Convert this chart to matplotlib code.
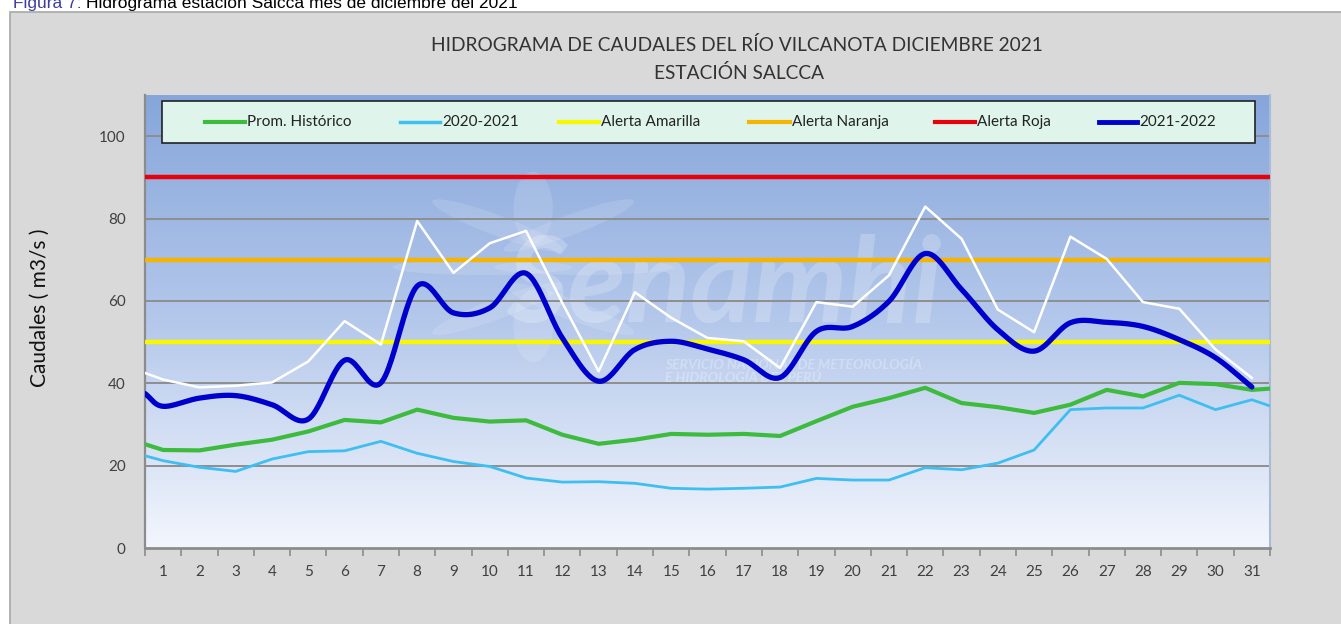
import numpy as np
import matplotlib
matplotlib.use("Agg")
import matplotlib.pyplot as plt
from matplotlib.colors import LinearSegmentedColormap
from matplotlib.patches import Rectangle, Ellipse

plt.rcParams['font.family'] = ['Lato', 'DejaVu Sans']

# ---- data ----
days = list(range(1, 32))
prom_hist = [23.8, 23.7, 25.1, 26.3, 28.3, 31.1, 30.5, 33.6, 31.6, 30.7, 31.0,
             27.5, 25.3, 26.3, 27.7, 27.5, 27.7, 27.2, 30.8, 34.3, 36.4, 38.9,
             35.2, 34.2, 32.8, 34.8, 38.4, 36.8, 40.1, 39.8, 38.4]
prom_hist_edges = (25.2, 38.7)      # values where the line meets the left / right frame
q_2020 = [21.2, 19.6, 18.6, 21.6, 23.4, 23.6, 25.9, 23.0, 21.0, 19.8, 17.0,
          16.0, 16.1, 15.7, 14.5, 14.3, 14.5, 14.8, 16.9, 16.5, 16.5, 19.5,
          19.0, 20.6, 23.8, 33.6, 34.0, 34.0, 37.1, 33.6, 36.0]
q_2020_edges = (22.4, 34.5)
q_2021 = [34.4, 36.4, 37.0, 34.8, 31.3, 45.6, 40.1, 63.6, 57.1, 58.3, 66.7,
          51.0, 40.5, 48.2, 50.2, 48.3, 45.7, 41.4, 52.6, 53.8, 59.9, 71.5,
          62.8, 53.0, 47.8, 54.7, 54.8, 53.8, 50.6, 46.2, 39.1]
q_2021_start = 37.5
q_max = [40.9, 39.0, 39.4, 40.2, 45.3, 55.1, 49.4, 79.4, 66.8, 74.0, 77.0,
         59.5, 42.9, 62.1, 55.9, 51.0, 50.2, 43.7, 59.7, 58.6, 66.2, 82.9,
         75.1, 57.9, 52.4, 75.6, 70.2, 59.7, 58.1, 48.2, 41.3]
q_max_start = 42.5
alertas = {'Alerta Amarilla': 50, 'Alerta Naranja': 70, 'Alerta Roja': 90}
y_ticks = [0, 20, 40, 60, 80, 100]

c_green = '#3dbb3d'
c_cyan = '#3fbff0'
c_blue = '#0000cc'
c_alert = {'Alerta Amarilla': '#f7f700', 'Alerta Naranja': '#f5b400',
           'Alerta Roja': '#e8000b'}


def smooth(x, y, n=24):
    # Catmull-Rom curve through the points (like Excel's smoothed line)
    x = np.asarray(x, float)
    y = np.asarray(y, float)
    px = np.concatenate([[2 * x[0] - x[1]], x, [2 * x[-1] - x[-2]]])
    py = np.concatenate([[2 * y[0] - y[1]], y, [2 * y[-1] - y[-2]]])
    t = np.linspace(0, 1, n, endpoint=False)
    ox, oy = [], []
    for i in range(1, len(px) - 2):
        for p, o in ((px, ox), (py, oy)):
            p0, p1, p2, p3 = p[i - 1], p[i], p[i + 1], p[i + 2]
            o.extend(0.5 * (2 * p1 + (-p0 + p2) * t
                            + (2 * p0 - 5 * p1 + 4 * p2 - p3) * t ** 2
                            + (-p0 + 3 * p1 - 3 * p2 + p3) * t ** 3))
    ox.append(x[-1])
    oy.append(y[-1])
    return ox, oy


W, H = 1341, 624
fig = plt.figure(figsize=(W / 100, H / 100), dpi=100)
fig.patch.set_facecolor('white')

# chart frame
fig.patches.append(Rectangle((10 / W, -0.01), 1, 1 - 12 / H + 0.01,
                             transform=fig.transFigure, fc='#d9d9d9',
                             ec='#a8a8a8', lw=1.2, zorder=-5))

# caption (cut at the top, as in the source page)
cap_font = ['Liberation Sans', 'DejaVu Sans']
cap1 = fig.text(13 / W, 1 - 8 / H, 'Figura 7:', color='#3d3d9e', fontsize=12.5,
                va='baseline', family=cap_font)
fig.canvas.draw()
bb = cap1.get_window_extent()
fig.text(bb.x1 / W + 4 / W, 1 - 8 / H,
         'Hidrograma estación Salcca mes de diciembre del 2021', color='black',
         fontsize=12.5, va='baseline', family=cap_font)

# title
fig.text(737 / W, 1 - 45 / H,
         'HIDROGRAMA DE CAUDALES DEL RÍO VILCANOTA DICIEMBRE 2021',
         ha='center', va='center', fontsize=13.8, color='#333333')
fig.text(739 / W, 1 - 73 / H, 'ESTACIÓN SALCCA', ha='center', va='center',
         fontsize=13.8, color='#333333')

ax = fig.add_axes([145 / W, 76 / H, 1125 / W, 453 / H])
ax.set_facecolor('none')

# gradient plot area
grad = LinearSegmentedColormap.from_list('bg', ['#86a6db', '#b4c8eb', '#f3f6fd'])
ax.imshow(np.linspace(0, 1, 256).reshape(-1, 1), cmap=grad, aspect='auto',
          extent=[0, 1, 0, 1], transform=ax.transAxes, zorder=0)

# watermark
ax.text(0.515, 0.575, 'Senamhi', transform=ax.transAxes, ha='center', va='center',
        fontsize=86, fontweight='bold', style='italic', color='white',
        alpha=0.22, zorder=1)
ax.text(0.462, 0.39, 'SERVICIO NACIONAL DE METEOROLOGÍA\nE HIDROLOGÍA DEL PERÚ',
        transform=ax.transAxes, ha='left', va='center', fontsize=10,
        fontweight='bold', style='italic', color='white', alpha=0.28,
        linespacing=1.1, zorder=1)
for ang in range(0, 360, 45):
    r = np.deg2rad(ang)
    ax.add_patch(Ellipse((0.345 + 0.045 * np.cos(r), 0.62 + 0.13 * np.sin(r)),
                         0.035, 0.16, angle=ang - 90, transform=ax.transAxes,
                         fc='white', ec='none', alpha=0.13, zorder=1))

ax.set_xlim(0.5, 31.5)
ax.set_ylim(0, 110)
x0, x1 = ax.get_xlim()

# grid
for v in y_ticks[1:]:
    ax.axhline(v, color='#8e8e8e', lw=1.4, zorder=2)

# alert lines
for name, val in alertas.items():
    ax.axhline(val, color=c_alert[name], lw=3.2, zorder=3)

ax.plot([x0] + days + [x1], [prom_hist_edges[0]] + prom_hist + [prom_hist_edges[1]],
        color=c_green, lw=3.0, zorder=4)
ax.plot([x0] + days + [x1], [q_2020_edges[0]] + q_2020 + [q_2020_edges[1]],
        color=c_cyan, lw=2.0, zorder=4)
ax.plot([x0] + days, [q_max_start] + q_max, color='white', lw=1.8, zorder=5)
sx, sy = smooth([x0] + days, [q_2021_start] + q_2021)
ax.plot(sx, sy, color=c_blue, lw=3.8, zorder=6, solid_capstyle='round')

# axes styling
ax.spines['top'].set_visible(False)
ax.spines['left'].set_color('#8c8c8c')
ax.spines['left'].set_linewidth(1.6)
ax.spines['bottom'].set_color('#8c8c8c')
ax.spines['bottom'].set_linewidth(2.0)
ax.spines['right'].set_color('#a9bcd6')
ax.spines['right'].set_linewidth(1.5)

ax.set_xticks(np.arange(x0, x1 + 0.01, 1))
ax.set_xticklabels([])
ax.set_xticks(days, minor=True)
ax.set_xticklabels([str(d) for d in days], minor=True)
ax.tick_params(axis='x', which='major', length=6, width=1.2, color='#8c8c8c',
               direction='out')
ax.tick_params(axis='x', which='minor', length=0, pad=12, labelsize=11,
               labelcolor='#404040')
ax.set_yticks(y_ticks)
ax.tick_params(axis='y', length=0, pad=14, labelsize=11, labelcolor='#404040')

fig.text(40 / W, 1 - 308 / H, 'Caudales ( m3/s )', rotation=90, ha='center',
         va='center', fontsize=15, color='#111111')

# legend box
def ax_x(px):
    return (px - 145) / 1125

ly = (548 - 122) / 453
ax.add_patch(Rectangle((ax_x(162), (548 - 143) / 453), ax_x(1255) - ax_x(162),
                       42 / 453, transform=ax.transAxes, fc='#dff5ec',
                       ec='#222222', lw=1.2, zorder=8))
entries = [('Prom. Histórico', c_green, 3.0, 205, 245),
           ('2020-2021', c_cyan, 2.5, 400, 440),
           ('Alerta Amarilla', c_alert['Alerta Amarilla'], 3.0, 559, 599),
           ('Alerta Naranja', c_alert['Alerta Naranja'], 3.0, 749, 790),
           ('Alerta Roja', c_alert['Alerta Roja'], 3.0, 935, 975),
           ('2021-2022', c_blue, 3.5, 1099, 1137)]
for label, col, lw, h0, h1 in entries:
    ax.plot([ax_x(h0), ax_x(h1)], [ly, ly], transform=ax.transAxes, color=col,
            lw=lw, zorder=9, clip_on=False)
    ax.text(ax_x(h1 + 2), ly, label, transform=ax.transAxes, va='center',
            ha='left', fontsize=11, color='#222222', zorder=9)

fig.savefig('out.png', dpi=100, facecolor=fig.get_facecolor())
